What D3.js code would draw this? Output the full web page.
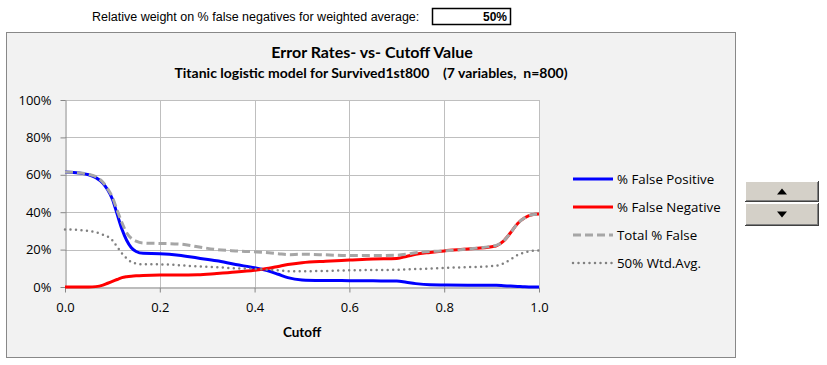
<!DOCTYPE html>
<html><head><meta charset="utf-8">
<script src="https://cdn.jsdelivr.net/npm/d3@7"></script>
<style>body{margin:0;background:#fff;}svg{display:block;}</style>
</head><body>
<script>
const cutoffs = [0,0.03,0.05,0.065,0.08,0.09,0.1,0.11,0.12,0.13,0.14,0.15,0.165,0.2,0.24,0.28,0.32,0.36,0.4,0.43,0.45,0.47,0.5,0.55,0.6,0.65,0.7,0.72,0.74,0.77,0.8,0.85,0.9,0.91,0.925,0.94,0.955,0.97,0.985,1.0];
const falsePositive = [61.5,61,60,58.5,55.5,52,47,39,31,25,21,19,18,17.8,17,15.5,14,12,10.3,8.5,6.8,5,3.8,3.5,3.4,3.3,3.2,2.5,1.8,1.2,1.1,1.0,1.0,0.9,0.7,0.5,0.3,0.1,0,0];
const falseNegative = [0,0,0,0.2,1,2,3,4,5,5.5,5.8,6,6.2,6.4,6.4,6.5,7.2,8,9,10,11,12,13,13.8,14.4,15,15.3,16.3,17.5,18.5,19.3,20.3,21.5,22,24.5,29,34,37,38.6,39];
const totalFalse = [61.5,61,60.2,59,56,52.5,48,41,34.5,29,26,24.5,23.5,23.3,23,21.5,20,19.3,18.8,18.3,17.8,17.3,17.5,17.2,16.8,16.8,17.0,17.5,18.3,19,19.3,20.3,21.8,22.3,24.5,29,34,37,38.6,39];
const wtdAvg = [30.8,30.5,30,29.3,28,27,25,21.5,18,15.3,13.4,12.5,12.1,12.1,11.7,11,10.6,10,9.7,9.2,8.9,8.5,8.4,8.6,8.9,9.1,9.2,9.4,9.6,9.8,10.2,10.6,11.2,11.4,12.6,14.7,17.1,18.5,19.3,19.5];
const xTicks = [0,0.2,0.4,0.6,0.8,1.0];
const yTicks = [0,20,40,60,80,100];
const seriesNames = ["% False Positive","% False Negative","Total % False","50% Wtd.Avg."];
const titleText = "Error Rates- vs- Cutoff Value";
const subtitleText = "Titanic logistic model for Survived1st800\u00a0\u00a0\u00a0 (7 variables,\u00a0 n=800)";
const weightLabel = "Relative weight on % false negatives for weighted average:";
const weightValue = "50%";

const W = 827, H = 365;
const svg = d3.select("body").append("svg").attr("width", W).attr("height", H);

// top control
svg.append("text").attr("x", 92).attr("y", 20.5).attr("font-family", "Liberation Sans, Arial")
  .attr("font-size", 12.5).attr("fill", "#000").text(weightLabel);
svg.append("rect").attr("x", 432.5).attr("y", 8.5).attr("width", 78).attr("height", 16)
  .attr("fill", "#fff").attr("stroke", "#000").attr("stroke-width", 1.5);
svg.append("text").attr("x", 507).attr("y", 21).attr("text-anchor", "end")
  .attr("font-family", "Liberation Sans, Arial").attr("font-weight", "bold").attr("font-size", 12).text(weightValue);

// chart box
svg.append("rect").attr("x", 6.5).attr("y", 32.5).attr("width", 729).attr("height", 325)
  .attr("fill", "#f2f2f2").attr("stroke", "#888").attr("stroke-width", 1);

svg.append("text").attr("x", 372).attr("y", 58).attr("text-anchor", "middle")
  .attr("font-family", "Lato, sans-serif").attr("font-weight", "bold").attr("font-size", 16).text(titleText);
svg.append("text").attr("x", 371).attr("y", 78).attr("text-anchor", "middle")
  .attr("font-family", "Lato, sans-serif").attr("font-weight", "bold").attr("font-size", 14).text(subtitleText);

const x0 = 65, x1 = 539, y0 = 287, y1 = 100;
const x = d3.scaleLinear().domain([0, 1]).range([x0, x1]);
const y = d3.scaleLinear().domain([0, 100]).range([y0, y1]);

svg.append("rect").attr("x", x0).attr("y", y1).attr("width", x1 - x0).attr("height", y0 - y1).attr("fill", "#fff");

// grid
const g = svg.append("g");
g.selectAll(".vg").data(xTicks.slice(1)).enter().append("line")
  .attr("x1", d => Math.round(x(d)) + 0.5).attr("x2", d => Math.round(x(d)) + 0.5)
  .attr("y1", y1).attr("y2", y0).attr("stroke", "#bfbfbf");
g.selectAll(".hg").data(yTicks.slice(1)).enter().append("line")
  .attr("y1", d => Math.round(y(d)) + 0.5).attr("y2", d => Math.round(y(d)) + 0.5)
  .attr("x1", x0).attr("x2", x1).attr("stroke", "#bfbfbf");

// axes
const font = "Open Sans, sans-serif";
const yAxis = svg.append("g").attr("transform", `translate(${x0 + 0.5},0)`)
  .call(d3.axisLeft(y).tickValues(yTicks).tickFormat(d => d + "%").tickSize(5).tickSizeOuter(0).tickPadding(9));
const xAxis = svg.append("g").attr("transform", `translate(0,${y0 + 0.5})`)
  .call(d3.axisBottom(x).tickValues(xTicks).tickFormat(d3.format(".1f")).tickSize(5).tickSizeOuter(0).tickPadding(10));
[yAxis, xAxis].forEach(a => {
  a.selectAll("path,line").attr("stroke", "#868686");
  a.selectAll("text").attr("font-family", font).attr("font-size", 13).attr("fill", "#000");
});
svg.append("text").attr("x", 302).attr("y", 337).attr("text-anchor", "middle")
  .attr("font-family", "Lato, sans-serif").attr("font-weight", "bold").attr("font-size", 13.5).text("Cutoff");

// series
const series = [
  {vals: falsePositive, color: "#0000ff", width: 3, dash: null, cap: "butt"},
  {vals: falseNegative, color: "#ff0000", width: 3, dash: null, cap: "butt"},
  {vals: totalFalse, color: "#a6a6a6", width: 3, dash: "8,4", cap: "butt"},
  {vals: wtdAvg, color: "#808080", width: 2.5, dash: "0,5.5", cap: "round"}
];
const line = d3.line().x(d => x(d[0])).y(d => y(d[1])).curve(d3.curveMonotoneX);
series.forEach(s => {
  svg.append("path").datum(cutoffs.map((c, i) => [c, s.vals[i]]))
    .attr("d", line).attr("fill", "none").attr("stroke", s.color).attr("stroke-width", s.width)
    .attr("stroke-dasharray", s.dash).attr("stroke-linecap", s.cap).attr("stroke-linejoin", "round");
});

// legend
const legY = [179, 207, 235, 263];
series.forEach((s, i) => {
  svg.append("line").attr("x1", 573).attr("x2", 613).attr("y1", legY[i]).attr("y2", legY[i])
    .attr("stroke", s.color).attr("stroke-width", s.width).attr("stroke-dasharray", s.dash).attr("stroke-linecap", s.cap);
  svg.append("text").attr("x", 617).attr("y", legY[i] + 5).attr("font-family", font).attr("font-size", 13.3)
    .attr("fill", "#000").text(seriesNames[i]);
});

// spinner buttons
function button(bx, by, bw, bh, up) {
  const b = svg.append("g");
  b.append("rect").attr("x", bx).attr("y", by).attr("width", bw).attr("height", bh).attr("fill", "#404040");
  b.append("rect").attr("x", bx).attr("y", by).attr("width", bw - 1).attr("height", bh - 1).attr("fill", "#fff");
  b.append("rect").attr("x", bx + 1).attr("y", by + 1).attr("width", bw - 2).attr("height", bh - 2).attr("fill", "#808080");
  b.append("rect").attr("x", bx + 1).attr("y", by + 1).attr("width", bw - 3).attr("height", bh - 3).attr("fill", "#d4d0c8");
  const cx = bx + bw / 2, cy = by + bh / 2;
  const p = up ? `M${cx - 5},${cy + 3}L${cx + 5},${cy + 3}L${cx},${cy - 3}Z` : `M${cx - 5},${cy - 3}L${cx + 5},${cy - 3}L${cx},${cy + 3}Z`;
  b.append("path").attr("d", p).attr("fill", "#000");
}
button(745, 181, 74, 21, true);
button(745, 203, 74, 23, false);
</script>
</body></html>
